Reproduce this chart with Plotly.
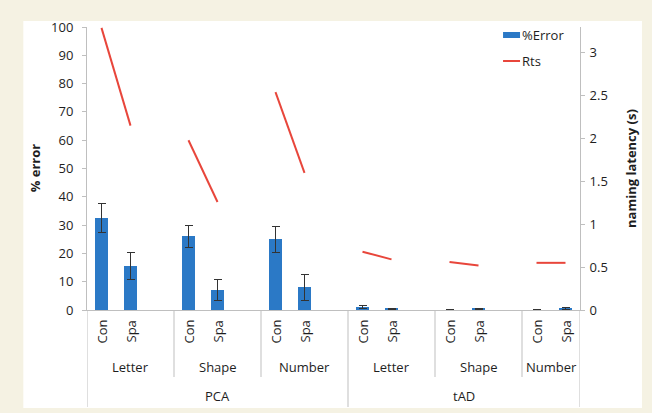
import plotly.graph_objects as go

# Data
groups = ["PCA", "tAD"]
tasks = ["Letter", "Shape", "Number"]
conditions = ["Con", "Spa"]

error_pca = [32.5, 15.5, 26.0, 7.0, 25.0, 8.0]
error_pca_sd = [5.0, 4.8, 4.0, 3.8, 4.6, 4.5]
error_tad = [1.0, 0.4, 0.0, 0.4, 0.0, 0.5]
error_tad_sd = [0.5, 0.3, 0.2, 0.3, 0.2, 0.3]

rts_pca = [3.29, 2.15, 1.98, 1.26, 2.54, 1.60]
rts_tad = [0.68, 0.59, 0.56, 0.52, 0.55, 0.55]

left_ticks = [0, 10, 20, 30, 40, 50, 60, 70, 80, 90, 100]
right_ticks = [0, 0.5, 1, 1.5, 2, 2.5, 3]

BLUE = "#2b79c6"
RED = "#e8463b"
AXIS = "#bfbfbf"
BEIGE = "#f5f2e3"
FONT = "Open Sans"
TXT = "#1e1e1e"

# Category slots: each task group holds Con, Spa and an empty slot
xs, errs, sds, rts = [], [], [], []
for gi, (e, s, r) in enumerate([(error_pca, error_pca_sd, rts_pca),
                                 (error_tad, error_tad_sd, rts_tad)]):
    for ti in range(3):
        base = gi * 9 + ti * 3
        for ci in range(2):
            xs.append(base + ci)
            errs.append(e[ti * 2 + ci])
            sds.append(s[ti * 2 + ci])
            rts.append(r[ti * 2 + ci])

fig = go.Figure()
fig.add_trace(go.Bar(
    x=xs, y=errs, width=0.42, marker=dict(color=BLUE, line=dict(width=0)),
    error_y=dict(type="data", array=sds, color="#333333", thickness=1, width=4),
    name="%Error", yaxis="y", showlegend=False,
))

# Reaction times: one segment per task (Con -> Spa)
rx, ry = [], []
for i in range(0, len(xs), 2):
    rx += [xs[i], xs[i + 1], None]
    ry += [rts[i], rts[i + 1], None]
fig.add_trace(go.Scatter(
    x=rx, y=ry, mode="lines", line=dict(color=RED, width=2),
    name="Rts", yaxis="y2", connectgaps=False, showlegend=False,
))

X_MIN, X_MAX = -0.5, 16.5
W, H = 652, 413
L, R, T, B = 86.7, 72, 27, 103
pw, ph = W - L - R, H - T - B


def py(pix):
    # pixel row -> paper y
    return (H - B - pix) / ph


def px(pix):
    return (pix - L) / pw


shapes = []
# white panel
shapes.append(dict(type="rect", xref="paper", yref="paper", layer="below",
                   x0=px(23), x1=px(642), y0=py(408), y1=py(21),
                   fillcolor="white", line=dict(width=0)))
# category separators
for xv in [2.5, 5.5, 11.5, 14.5]:
    shapes.append(dict(type="line", xref="x", yref="paper", x0=xv, x1=xv,
                       y0=0, y1=py(377), line=dict(color=AXIS, width=1)))
for xv in [X_MIN, 8.5, X_MAX]:
    shapes.append(dict(type="line", xref="x", yref="paper", x0=xv, x1=xv,
                       y0=0, y1=py(407), line=dict(color=AXIS, width=1)))

# legend key
shapes.append(dict(type="rect", xref="paper", yref="paper",
                   x0=px(503), x1=px(520), y0=py(38), y1=py(32),
                   fillcolor=BLUE, line=dict(width=0)))
shapes.append(dict(type="line", xref="paper", yref="paper",
                   x0=px(503), x1=px(520), y0=py(61), y1=py(61),
                   line=dict(color=RED, width=2)))


def ann(x, y, text, xref="paper", angle=0, xanchor="center", bold=False, size=13):
    return dict(x=x, y=y, xref=xref, yref="paper", text=f"<b>{text}</b>" if bold else text,
                textangle=angle, showarrow=False, xanchor=xanchor, yanchor="middle",
                font=dict(family=FONT, size=size, color=TXT))


annotations = []
for i, x in enumerate(xs):
    annotations.append(ann(x, py(332), conditions[i % 2], xref="x", angle=-90))
task_spans = [(-0.5, 2.5), (2.5, 5.5), (5.5, 8.5), (8.5, 11.5), (11.5, 14.5), (14.5, 16.5)]
for k, (a, b) in enumerate(task_spans):
    annotations.append(ann((a + b) / 2, py(367), tasks[k % 3], xref="x"))
for k, (a, b) in enumerate([(-0.5, 8.5), (8.5, 16.5)]):
    annotations.append(ann((a + b) / 2, py(396), groups[k], xref="x"))
# axis titles
annotations.append(ann(px(35), py(168), "% error", angle=-90, bold=True, size=13))
annotations.append(ann(px(631), py(168), "naming latency (s)", angle=-90, bold=True, size=13))
# legend labels
annotations.append(ann(px(520), py(35), "%Error", xanchor="left"))
annotations.append(ann(px(520), py(61), "Rts", xanchor="left"))

fig.update_layout(
    width=W, height=H,
    margin=dict(l=L, r=R, t=T, b=B, pad=0),
    paper_bgcolor=BEIGE, plot_bgcolor="white",
    font=dict(family=FONT, size=13, color=TXT),
    showlegend=False,
    xaxis=dict(range=[X_MIN, X_MAX], showticklabels=False, ticks="",
               showgrid=False, zeroline=False, showline=True, linecolor=AXIS,
               linewidth=1),
    yaxis=dict(range=[0, 100], tickvals=left_ticks, ticks="outside", ticklen=4,
               tickcolor=AXIS, showgrid=False, zeroline=False, showline=True,
               linecolor=AXIS, linewidth=1, tickfont=dict(size=13),
               ticklabelstandoff=6),
    yaxis2=dict(range=[0, 3.3], tickvals=right_ticks, overlaying="y", side="right",
                ticks="outside", ticklen=4, tickcolor=AXIS, showgrid=False,
                zeroline=False, showline=True, linecolor=AXIS, linewidth=1,
                tickfont=dict(size=13), ticklabelstandoff=2),
    shapes=shapes, annotations=annotations,
    bargap=0,
)

fig.write_html("out.html")
